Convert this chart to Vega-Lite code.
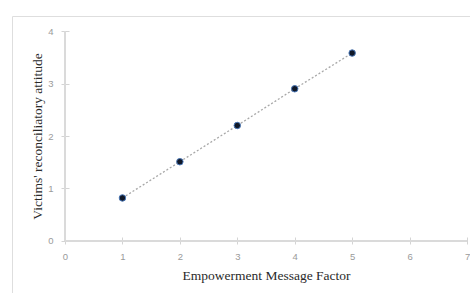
{
  "$schema": "https://vega.github.io/schema/vega-lite/v6.json",
  "width": 463,
  "height": 284,
  "autosize": {"type": "none"},
  "padding": {"left": 12, "top": 16, "right": 0, "bottom": 0},
  "background": "white",
  "config": {
    "view": {"stroke": "#dedede", "strokeWidth": 1},
    "font": "Liberation Serif",
    "axis": {"grid": false, "domain": false, "tickColor": "#d4d4d4", "tickWidth": 1, "labelColor": "#9a9a9a", "labelFont": "Liberation Sans", "labelFontSize": 9.5, "titleFont": "Liberation Serif", "titleFontSize": 13.5, "titleFontWeight": "normal", "titleColor": "#2a2a2a"}
  },
  "data": {"values": [
    {"factor": 1, "attitude": 0.82},
    {"factor": 2, "attitude": 1.51},
    {"factor": 3, "attitude": 2.2},
    {"factor": 4, "attitude": 2.9},
    {"factor": 5, "attitude": 3.58}
  ]},
  "layer": [
    {
      "mark": {"type": "rule", "color": "#dadada", "strokeWidth": 2},
      "encoding": {"x": {"datum": 0, "type": "quantitative"}, "x2": {"datum": 7}, "y": {"datum": 0, "type": "quantitative"}}
    },
    {
      "mark": {"type": "rule", "color": "#dadada", "strokeWidth": 2},
      "encoding": {"y": {"datum": 0, "type": "quantitative"}, "y2": {"datum": 4}, "x": {"datum": 0, "type": "quantitative"}}
    },
    {
      "mark": {"type": "line", "color": "#a8a8a8", "strokeWidth": 1.3, "strokeDash": [2, 2]},
      "encoding": {
        "x": {"field": "factor", "type": "quantitative"},
        "y": {"field": "attitude", "type": "quantitative"}
      }
    },
    {
      "mark": {"type": "point", "filled": true, "size": 42, "color": "#101828", "stroke": "#4a78b8", "strokeWidth": 1, "opacity": 1},
      "encoding": {
        "x": {"field": "factor", "type": "quantitative",
          "scale": {"domain": [-0.923, 7.139], "nice": false, "zero": false},
          "axis": {"values": [0, 1, 2, 3, 4, 5, 6, 7], "format": "d", "offset": -63, "tickSize": 7, "labelPadding": 7, "title": "Empowerment Message Factor", "titleX": 254, "titleY": 38, "titleBaseline": "middle", "titleAlign": "center"}},
        "y": {"field": "attitude", "type": "quantitative",
          "scale": {"domain": [-1.124, 4.286], "nice": false, "zero": false},
          "axis": {"values": [0, 1, 2, 3, 4], "format": "d", "offset": -57, "tickSize": 8, "labelPadding": 8, "title": "Victims' reconciliatory attitude", "titleX": -32, "titleY": 120, "titleBaseline": "middle", "titleAlign": "center", "titleAngle": -90}}
      }
    }
  ]
}
